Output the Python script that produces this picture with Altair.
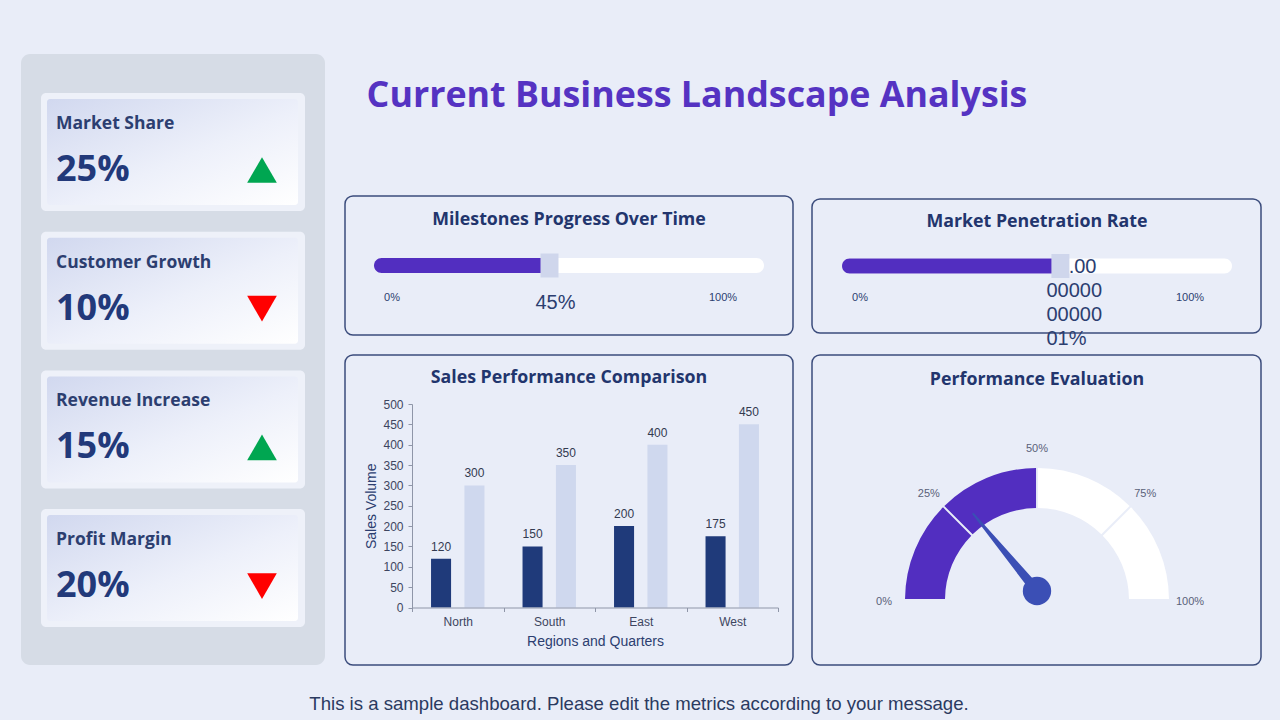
import math

import altair as alt
import pandas as pd

# ---------------------------------------------------------------- data
kpi_names = ["Market Share", "Customer Growth", "Revenue Increase", "Profit Margin"]
kpi_values = [25, 10, 15, 20]
kpi_trends = ["up", "down", "up", "down"]

milestone_progress = 45
penetration_rate = 56.00000000000001

regions = ["North", "South", "East", "West"]
series_names = ["Actual", "Target"]
sales_actual = [120, 150, 200, 175]
sales_target = [300, 350, 400, 450]

gauge_ticks = [0, 25, 50, 75, 100]
gauge_spans = [25, 25, 25, 25]
gauge_states = ["filled", "filled", "open", "open"]
gauge_needle = 28

# ---------------------------------------------------------------- style
BG = "#e9edf8"
SIDEBAR = "#d6dce6"
PURPLE = "#522ec0"
NAVY = "#22356d"
INK = "#2c3e70"
HANDLE = "#cfd6ec"
BORDER = "#3b4c7c"
HEAD = "Open Sans"
SANS = "Liberation Sans"

ONE = alt.Data(values=[{"k": 0}])


def rect(x0, y0, x1, y1, **style):
    return alt.Chart(ONE).mark_rect(**style).encode(
        x=alt.value(x0), x2=alt.value(x1), y=alt.value(y0), y2=alt.value(y1)
    )


def label(x, y, text, size, color, font=SANS, weight="normal", align="center"):
    return alt.Chart(ONE).mark_text(
        text=text, fontSize=size, color=color, font=font, fontWeight=weight,
        align=align, baseline="middle",
    ).encode(x=alt.value(x), y=alt.value(y))


layers = []

# ---------------------------------------------------------------- sidebar + KPI cards
layers.append(rect(21, 54, 325, 665, color=SIDEBAR, cornerRadius=9))

card_top0, card_step = 93, 138.7
cards = pd.DataFrame({
    "name": kpi_names,
    "value": [f"{v}%" for v in kpi_values],
    "trend": kpi_trends,
})
cards["top"] = [card_top0 + i * card_step for i in range(len(cards))]
cards["bottom"] = cards["top"] + 118
cards["in_top"] = cards["top"] + 6
cards["in_bottom"] = cards["top"] + 112
cards["label_y"] = cards["top"] + 31
cards["value_y"] = cards["top"] + 77
cards["icon_y"] = cards["top"] + 77

card_base = alt.Chart(cards)
layers.append(card_base.mark_rect(color="#eef1f9", cornerRadius=5).encode(
    x=alt.value(41), x2=alt.value(305),
    y=alt.Y("top:Q", scale=None, axis=None), y2="bottom:Q",
))
layers.append(card_base.mark_rect(
    cornerRadius=3,
    fill=alt.LinearGradient(
        gradient="linear",
        stops=[alt.GradientStop(offset=0, color="#d1d8ef"),
               alt.GradientStop(offset=0.55, color="#edf0fa"),
               alt.GradientStop(offset=1, color="#ffffff")],
        x1=0, y1=0, x2=1, y2=1,
    ),
).encode(
    x=alt.value(47), x2=alt.value(298),
    y=alt.Y("in_top:Q", scale=None, axis=None), y2="in_bottom:Q",
))
layers.append(card_base.mark_text(
    align="left", baseline="middle", font=HEAD, fontWeight="bold", fontSize=17.5, color=INK,
).encode(x=alt.value(56), y=alt.Y("label_y:Q", scale=None, axis=None), text="name:N"))
layers.append(card_base.mark_text(
    align="left", baseline="middle", font=HEAD, fontWeight="bold", fontSize=36, color="#22397a",
).encode(x=alt.value(56), y=alt.Y("value_y:Q", scale=None, axis=None), text="value:N"))
layers.append(card_base.mark_point(filled=True, opacity=1, size=880, strokeWidth=0).encode(
    x=alt.value(262),
    y=alt.Y("icon_y:Q", scale=None, axis=None),
    shape=alt.Shape("trend:N", scale=alt.Scale(domain=["up", "down"],
                                               range=["triangle-up", "triangle-down"]), legend=None),
    color=alt.Color("trend:N", scale=alt.Scale(domain=["up", "down"],
                                               range=["#00a651", "#ff0000"]), legend=None),
))

# ---------------------------------------------------------------- titles and panel frames
layers.append(label(697, 96, "Current Business Landscape Analysis", 35.8, "#5533c2",
                    font=HEAD, weight="bold"))

for x0, y0, x1, y1 in [(345, 196, 793, 335), (812, 199, 1261, 333),
                       (345, 355, 793, 665), (812, 355, 1261, 665)]:
    layers.append(rect(x0, y0, x1, y1, fill=BG, stroke=BORDER, strokeWidth=1.5, cornerRadius=8))

layers.append(label(569, 220, "Milestones Progress Over Time", 17.8, NAVY, font=HEAD, weight="bold"))
layers.append(label(1037, 222, "Market Penetration Rate", 17.8, NAVY, font=HEAD, weight="bold"))
layers.append(label(569, 378, "Sales Performance Comparison", 17.8, NAVY, font=HEAD, weight="bold"))
layers.append(label(1037, 380, "Performance Evaluation", 17.8, NAVY, font=HEAD, weight="bold"))

layers.append(label(639, 704, "This is a sample dashboard. Please edit the metrics according to your message.",
                    18.6, "#2b3a60"))


# ---------------------------------------------------------------- progress bars
def wrap(text, width):
    return [text[i:i + width] for i in range(0, len(text), width)]


def progress(value, x0, x1, cy, zero_x, full_x):
    lines = wrap(f"{value}%", 5)
    # the label block is centred vertically on the row under the track
    df = pd.DataFrame({"lo": [0], "hi": [100], "value": [value],
                       "label": ["\n".join(lines)],
                       "ty": [303 - (len(lines) - 1) * 12]})
    sc = alt.Scale(domain=[0, 100], range=[x0, x1], nice=False)

    def X(field):
        return alt.X(f"{field}:Q", scale=sc, axis=None)

    base = alt.Chart(df)
    track = base.mark_rect(color="white", cornerRadius=7.5).encode(
        x=X("lo"), x2="hi", y=alt.value(cy - 7.5), y2=alt.value(cy + 7.5))
    text = base.mark_text(align="left", baseline="middle", dx=-14, fontSize=20, font=SANS,
                          lineBreak="\n", lineHeight=24, color=INK).encode(
        x=X("value"), y=alt.Y("ty:Q", scale=None, axis=None), text="label:N")
    fill = base.mark_rect(color=PURPLE, cornerRadius=7.5).encode(
        x=X("lo"), x2="value", y=alt.value(cy - 7.5), y2=alt.value(cy + 7.5))
    handle = base.mark_point(shape="M-0.75,-1H0.75V1H-0.75Z", size=576, filled=True,
                             opacity=1, strokeWidth=0, color=HANDLE).encode(
        x=X("value"), y=alt.value(cy))
    ends = [label(zero_x, 298, "0%", 11, INK), label(full_x, 298, "100%", 11, INK)]
    return [alt.layer(track, text, fill, handle)] + ends


layers += progress(milestone_progress, 374, 764, 265.5, 392, 723)
layers += progress(penetration_rate, 842, 1232, 266, 860, 1190)

# ---------------------------------------------------------------- grouped bar chart
sales = pd.DataFrame({
    "region": regions * 2,
    "series": [series_names[0]] * len(regions) + [series_names[1]] * len(regions),
    "volume": sales_actual + sales_target,
})
AXIS_GRAY = "#8f96a8"
LABEL_GRAY = "#3d4560"
bx = alt.X("region:N", sort=regions,
           scale=alt.Scale(range=[412, 778], paddingInner=0, paddingOuter=0),
           axis=alt.Axis(orient="bottom", offset=-112.5, title="Regions and Quarters",
                         labelAngle=0, labelFont=SANS, labelFontSize=12, labelColor=LABEL_GRAY,
                         labelPadding=5, tickBand="extent", tickSize=4, tickColor=AXIS_GRAY,
                         domainColor=AXIS_GRAY, titleFont=SANS, titleFontSize=14,
                         titleFontWeight="normal", titleColor=INK, titlePadding=7, grid=False,
                         zindex=1))
by = alt.Y("volume:Q",
           scale=alt.Scale(domain=[0, 500], range=[607.5, 404], nice=False, zero=True),
           axis=alt.Axis(orient="left", offset=-412, values=list(range(0, 501, 50)),
                         title="Sales Volume", labelFont=SANS, labelFontSize=12,
                         labelColor=LABEL_GRAY, labelPadding=5, tickSize=4, tickColor=AXIS_GRAY,
                         domainColor=AXIS_GRAY, titleFont=SANS, titleFontSize=14,
                         titleFontWeight="normal", titleColor=INK, titlePadding=4, grid=False,
                         zindex=1))
bo = alt.XOffset("series:N", sort=series_names,
                 scale=alt.Scale(paddingInner=0.4, paddingOuter=0.57))
bars = alt.Chart(sales).mark_bar().encode(
    x=bx, y=by, xOffset=bo,
    color=alt.Color("series:N", sort=series_names,
                    scale=alt.Scale(domain=series_names, range=["#1f3a7a", "#cfd8ee"]),
                    legend=None),
)
bar_labels = alt.Chart(sales).mark_text(dy=-12, baseline="middle", font=SANS, fontSize=12,
                                        color="#333a50").encode(
    x=bx, y=by, xOffset=bo, text="volume:Q")
layers.append(alt.layer(bars, bar_labels))

# ---------------------------------------------------------------- gauge
CX, CY = 1037, 600
theta_scale = alt.Scale(domain=[0, 100], range=[1.5 * math.pi, 2.5 * math.pi])
gauge = pd.DataFrame({"band": list(range(len(gauge_spans))), "span": gauge_spans,
                      "state": gauge_states})
arcs = alt.Chart(gauge).mark_arc(radius=132, radius2=92, padAngle=0.012).encode(
    theta=alt.Theta("span:Q", stack=True, scale=theta_scale),
    order=alt.Order("band:O"),
    color=alt.Color("state:N", scale=alt.Scale(domain=["filled", "open"],
                                               range=[PURPLE, "#ffffff"]), legend=None),
    x=alt.value(CX), y=alt.value(CY),
)
ticks = pd.DataFrame({"tick": gauge_ticks, "text": [f"{t}%" for t in gauge_ticks]})
tick_labels = alt.Chart(ticks).mark_text(radius=153, font=SANS, fontSize=11,
                                         color="#5a6178", baseline="middle").encode(
    theta=alt.Theta("tick:Q", scale=theta_scale),
    x=alt.value(CX), y=alt.value(CY + 2), text="text:N")
layers.append(alt.layer(arcs, tick_labels))

# needle: tapered trail from the hub along the value angle
PX, PY, NEEDLE_LEN = 1037, 591, 100
needle = pd.DataFrame({"value": [gauge_needle, gauge_needle], "t": [0, 1]})
layers.append(
    alt.Chart(needle).transform_calculate(
        ang="datum.value / 100 * PI",
        px=f"{PX} - datum.t * {NEEDLE_LEN} * cos(datum.ang)",
        py=f"{PY} - datum.t * {NEEDLE_LEN} * sin(datum.ang)",
        w="10 - 8 * datum.t",
    ).mark_trail(color="#3b4fb5").encode(
        x=alt.X("px:Q", scale=None, axis=None),
        y=alt.Y("py:Q", scale=None, axis=None),
        size=alt.Size("w:Q", scale=None, legend=None),
        order="t:Q",
    )
)
layers.append(alt.Chart(ONE).mark_circle(size=math.pi * 16 ** 2, color="#3b4fb5", opacity=1).encode(
    x=alt.value(PX), y=alt.value(PY)))

# ---------------------------------------------------------------- assemble
chart = alt.layer(*layers).resolve_scale(
    x="independent", y="independent", theta="independent", color="independent",
    shape="independent", size="independent", xOffset="independent",
).resolve_axis(x="independent", y="independent").properties(
    width=1280, height=720, padding=0, background=BG,
    autosize=alt.AutoSizeParams(type="none"),
).configure_view(stroke=None)

chart.save("out.html", embed_options={"renderer": "svg", "actions": False})
